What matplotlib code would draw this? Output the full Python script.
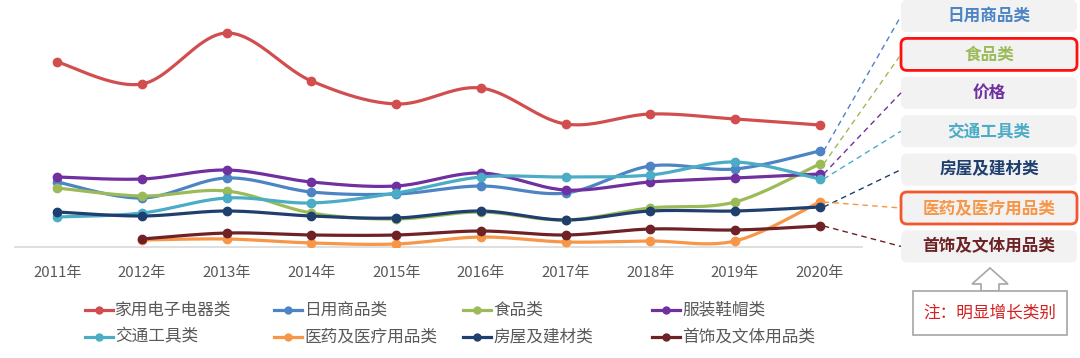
import matplotlib
matplotlib.use('Agg')

import numpy as np
import matplotlib.pyplot as plt
from matplotlib.patches import FancyBboxPatch, Polygon, Rectangle

plt.rcParams['font.family'] = ['Noto Sans CJK SC', 'DejaVu Sans']

# data (arbitrary units)
years = ['2011年', '2012年', '2013年', '2014年', '2015年',
         '2016年', '2017年', '2018年', '2019年', '2020年']
names = ['家用电子电器类', '日用商品类', '食品类', '服装鞋帽类',
         '交通工具类', '医药及医疗用品类', '房屋及建材类', '首饰及文体用品类']
appliances = [185, 163, 214, 166, 143, 159, 123, 133, 128, 122]
daily = [65, 49, 69, 55, 53, 61, 54, 81, 78, 96]
food = [59, 51, 56, 34, 28, 35, 27, 39, 45, 83]
clothing = [70, 68, 77, 65, 61, 74, 57, 65, 69, 73]
transport = [30, 34, 49, 44, 54, 70, 70, 72, 85, 68]
medical = [np.nan, 7, 8, 4, 3, 10, 5, 6, 6, 45]
housing = [35, 31, 36, 31, 29, 36, 27, 36, 36, 40]
jewelry = [np.nan, 8, 14, 12, 12, 16, 12, 18, 17, 21]
series = [appliances, daily, food, clothing, transport, medical, housing, jewelry]
colors = ['#D24E4E', '#4D84C4', '#9BBB59', '#7030A0',
          '#4BACC6', '#F79646', '#1F3F6E', '#6E2226']

# right hand labels: (text, series index, highlight edge)
side_labels = [('日用商品类', 1, None), ('食品类', 2, '#FF1010'), ('价格', 3, None),
               ('交通工具类', 4, None), ('房屋及建材类', 6, None),
               ('医药及医疗用品类', 5, '#F4572E'), ('首饰及文体用品类', 7, None)]


def smooth(xs, ys, n=24):
    pts = np.column_stack([xs, ys])
    out = [pts[0]]
    for i in range(len(pts) - 1):
        p0 = pts[i - 1] if i > 0 else pts[i]
        p1, p2 = pts[i], pts[i + 1]
        p3 = pts[i + 2] if i + 2 < len(pts) else pts[i + 1]
        c1 = p1 + (p2 - p0) / 6
        c2 = p2 - (p3 - p1) / 6
        t = np.linspace(0, 1, n)[1:, None]
        seg = (1 - t) ** 3 * p1 + 3 * (1 - t) ** 2 * t * c1 + 3 * (1 - t) * t ** 2 * c2 + t ** 3 * p2
        out.extend(seg)
    out = np.array(out)
    return out[:, 0], out[:, 1]


W, H = 1080, 358
fig = plt.figure(figsize=(W / 100, H / 100), dpi=100)
ax = fig.add_axes([15 / W, (H - 247) / H, 847 / W, 247 / H])

x = np.arange(len(years))
for vals, c in zip(series, colors):
    v = np.array(vals, dtype=float)
    ok = ~np.isnan(v)
    sx, sy = smooth(x[ok], v[ok])
    ax.plot(sx, sy, color=c, lw=2.3, solid_capstyle='round', zorder=3)
    ax.plot(x[ok], v[ok], 'o', color=c, ms=6, zorder=4)

ax.set_xlim(-0.5, len(years) - 0.5)
ax.set_ylim(0, 247)
ax.set_xticks(x)
ax.set_xticklabels(years, fontsize=10.8, color='#595959')
ax.tick_params(axis='x', length=0, pad=14)
ax.set_yticks([])
for s in ['top', 'right', 'left']:
    ax.spines[s].set_visible(False)
ax.spines['bottom'].set_color('#D9D9D9')
ax.spines['bottom'].set_linewidth(1.2)

# overlay in pixel coords
ov = fig.add_axes([0, 0, 1, 1], zorder=5)
ov.set_xlim(0, W)
ov.set_ylim(H, 0)
ov.axis('off')
ov.patch.set_alpha(0)

to_px = ax.transData + ov.transData.inverted()

box_x0, box_x1 = 901, 1077
for k, (label, idx, edge) in enumerate(side_labels):
    cy = 16 + k * 38.4
    box = FancyBboxPatch((box_x0, cy - 16), box_x1 - box_x0, 32,
                         boxstyle='round,pad=0,rounding_size=6',
                         fc='#F2F2F2', ec=edge if edge else 'none',
                         lw=2 if edge else 0)
    ov.add_patch(box)
    ov.text((box_x0 + box_x1) / 2, cy, label, ha='center', va='center',
            fontsize=12, fontweight='bold', color=colors[idx])
    px, py = to_px.transform((len(years) - 1, series[idx][-1]))
    ov.plot([px + 4, box_x0], [py, cy], ls=(0, (4, 3)), lw=1, color=colors[idx])

# arrow and note
arrow = Polygon([(990, 268), (1008, 284), (999, 284), (999, 291),
                 (981, 291), (981, 284), (972, 284)],
                closed=True, fc='white', ec='#A6A6A6', lw=1.2)
ov.add_patch(arrow)
ov.add_patch(Rectangle((913, 291), 154, 44, fc='white', ec='#A6A6A6', lw=1.2))
ov.text(990, 313, '注：明显增长类别', ha='center', va='center',
        fontsize=12, color='#D42020')

# legend
for i, (name, c) in enumerate(zip(names, colors)):
    lx = 85 + (i % 4) * 189
    ly = 310 + (i // 4) * 27
    ov.plot([lx, lx + 28], [ly, ly], color=c, lw=2.3)
    ov.plot([lx + 14], [ly], 'o', color=c, ms=5)
    ov.text(lx + 30, ly, name, ha='left', va='center', fontsize=12, color='#595959')

plt.savefig('out.png', dpi=100)
